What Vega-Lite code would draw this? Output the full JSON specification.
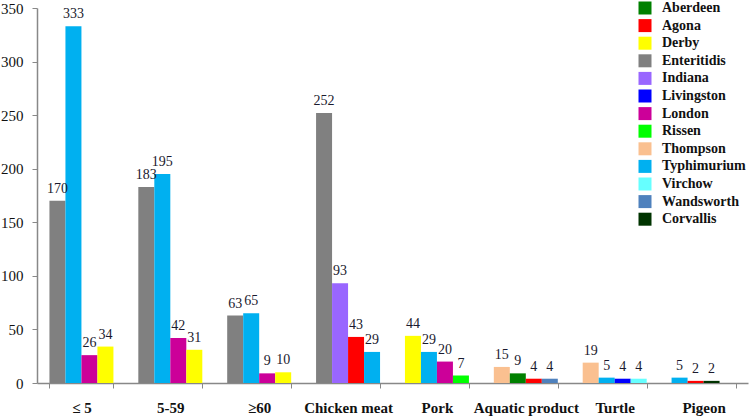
{
  "$schema": "https://vega.github.io/schema/vega-lite/v6.json",
  "width": 711,
  "height": 375,
  "autosize": {"type": "none"},
  "padding": {"left": 37, "top": 8, "right": 2, "bottom": 33},
  "background": "white",
  "config": {
    "view": {"stroke": null},
    "font": "Times New Roman, Liberation Serif, serif"
  },
  "data": {
    "values": [
      {"group": "≤ 5", "rank": 1, "serotype": "Enteritidis", "count": 170},
      {"group": "≤ 5", "rank": 2, "serotype": "Typhimurium", "count": 333},
      {"group": "≤ 5", "rank": 3, "serotype": "London", "count": 26},
      {"group": "≤ 5", "rank": 4, "serotype": "Derby", "count": 34},
      {"group": "5-59", "rank": 1, "serotype": "Enteritidis", "count": 183},
      {"group": "5-59", "rank": 2, "serotype": "Typhimurium", "count": 195},
      {"group": "5-59", "rank": 3, "serotype": "London", "count": 42},
      {"group": "5-59", "rank": 4, "serotype": "Derby", "count": 31},
      {"group": "≥60", "rank": 1, "serotype": "Enteritidis", "count": 63},
      {"group": "≥60", "rank": 2, "serotype": "Typhimurium", "count": 65},
      {"group": "≥60", "rank": 3, "serotype": "London", "count": 9},
      {"group": "≥60", "rank": 4, "serotype": "Derby", "count": 10},
      {"group": "Chicken meat", "rank": 1, "serotype": "Enteritidis", "count": 252},
      {"group": "Chicken meat", "rank": 2, "serotype": "Indiana", "count": 93},
      {"group": "Chicken meat", "rank": 3, "serotype": "Agona", "count": 43},
      {"group": "Chicken meat", "rank": 4, "serotype": "Typhimurium", "count": 29},
      {"group": "Pork", "rank": 1, "serotype": "Derby", "count": 44},
      {"group": "Pork", "rank": 2, "serotype": "Typhimurium", "count": 29},
      {"group": "Pork", "rank": 3, "serotype": "London", "count": 20},
      {"group": "Pork", "rank": 4, "serotype": "Rissen", "count": 7},
      {"group": "Aquatic product", "rank": 1, "serotype": "Thompson", "count": 15},
      {"group": "Aquatic product", "rank": 2, "serotype": "Aberdeen", "count": 9},
      {"group": "Aquatic product", "rank": 3, "serotype": "Agona", "count": 4},
      {"group": "Aquatic product", "rank": 4, "serotype": "Wandsworth", "count": 4},
      {"group": "Turtle", "rank": 1, "serotype": "Thompson", "count": 19},
      {"group": "Turtle", "rank": 2, "serotype": "Typhimurium", "count": 5},
      {"group": "Turtle", "rank": 3, "serotype": "Livingston", "count": 4},
      {"group": "Turtle", "rank": 4, "serotype": "Virchow", "count": 4},
      {"group": "Pigeon", "rank": 1, "serotype": "Typhimurium", "count": 5},
      {"group": "Pigeon", "rank": 2, "serotype": "Agona", "count": 2},
      {"group": "Pigeon", "rank": 3, "serotype": "Corvallis", "count": 2}
    ]
  },
  "encoding": {
    "x": {
      "field": "group",
      "type": "nominal",
      "sort": ["≤ 5", "5-59", "≥60", "Chicken meat", "Pork", "Aquatic product", "Turtle", "Pigeon"],
      "scale": {"paddingInner": 0.28, "paddingOuter": 0.14},
      "axis": {
        "title": null,
        "labelAngle": 0,
        "labelFont": "Times New Roman, Liberation Serif, serif",
        "labelFontSize": 15,
        "labelFontWeight": "bold",
        "labelColor": "#111",
        "labelPadding": 12,
        "tickBand": "extent",
        "tickSize": 5,
        "tickColor": "#888",
        "domainColor": "#888",
        "domainWidth": 1.5
      }
    },
    "xOffset": {"field": "rank", "type": "ordinal", "scale": {"domain": [1, 2, 3, 4]}},
    "y": {
      "field": "count",
      "type": "quantitative",
      "scale": {"domain": [0, 350]},
      "axis": {
        "title": null,
        "values": [0, 50, 100, 150, 200, 250, 300, 350],
        "grid": false,
        "labelFont": "Times New Roman, Liberation Serif, serif",
        "labelFontSize": 15,
        "labelColor": "#111",
        "labelPadding": 9,
        "tickSize": 5,
        "tickColor": "#888",
        "domainColor": "#888",
        "domainWidth": 1.5
      }
    }
  },
  "layer": [
    {
      "mark": {"type": "bar"},
      "encoding": {
        "color": {
          "field": "serotype",
          "type": "nominal",
          "scale": {
            "domain": ["Aberdeen", "Agona", "Derby", "Enteritidis", "Indiana", "Livingston", "London", "Rissen", "Thompson", "Typhimurium", "Virchow", "Wandsworth", "Corvallis"],
            "range": ["#008000", "#ff0000", "#ffff00", "#808080", "#9966ff", "#0000ff", "#cc0099", "#00ff00", "#fac090", "#00b0f0", "#66ffff", "#4f81bd", "#003300"]
          },
          "legend": {
            "title": null,
            "orient": "none",
            "legendX": 601,
            "legendY": -7,
            "symbolType": "square",
            "symbolSize": 169,
            "symbolStrokeWidth": 0,
            "labelFont": "Times New Roman, Liberation Serif, serif",
            "labelFontSize": 14,
            "labelFontWeight": "bold",
            "labelColor": "#111",
            "labelOffset": 10,
            "rowPadding": 3.6
          }
        }
      }
    },
    {
      "mark": {"type": "text", "baseline": "bottom", "dy": -5, "font": "Times New Roman, Liberation Serif, serif", "fontSize": 14, "color": "#1a1a2e"},
      "encoding": {"text": {"field": "count", "type": "quantitative"}}
    }
  ]
}
